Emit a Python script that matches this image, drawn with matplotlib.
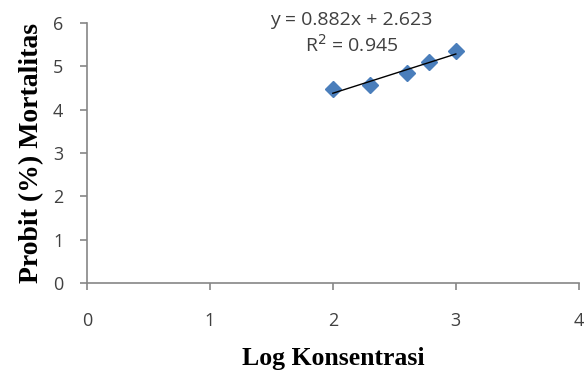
import matplotlib
matplotlib.use("Agg")
import matplotlib.pyplot as plt
import numpy as np

# data
log_konsentrasi = [2.0, 2.301, 2.602, 2.778, 3.0]
probit = [4.47, 4.56, 4.85, 5.09, 5.35]
x_ticks = [0, 1, 2, 3, 4]
y_ticks = [0, 1, 2, 3, 4, 5, 6]
equation = "y = 0.882x + 2.623"
r_squared = "R$^2$ = 0.945"

grey = "#868686"
txt = "#404040"

fig = plt.figure(figsize=(5.87, 3.76), dpi=100)
ax = fig.add_axes([0.148, 0.247, 0.838, 0.692])

ax.plot(log_konsentrasi, probit, linestyle="none", marker="D",
        markersize=8.5, color="#4A7EBB", zorder=3)

# linear trendline
k, b = np.polyfit(log_konsentrasi, probit, 1)
xs = np.array([min(log_konsentrasi), max(log_konsentrasi)])
ax.plot(xs, k * xs + b, color="black", linewidth=1, zorder=4)

ax.set_xlim(0, 4)
ax.set_ylim(0, 6)
ax.set_xticks(x_ticks)
ax.set_yticks(y_ticks)

for s in ["top", "right"]:
    ax.spines[s].set_visible(False)
for s in ["left", "bottom"]:
    ax.spines[s].set_color(grey)
    ax.spines[s].set_linewidth(1.2)

ax.tick_params(axis="both", direction="out", length=5, width=1.2, color=grey,
               labelcolor=txt, labelsize=13)
ax.tick_params(axis="x", pad=16)
ax.tick_params(axis="y", pad=12)
for lab in ax.get_xticklabels() + ax.get_yticklabels():
    lab.set_family("Open Sans")

ax.set_xlabel("Log Konsentrasi", family="Liberation Serif", fontweight="bold",
              fontsize=18.5, color="black", labelpad=12)
ax.set_ylabel("Probit (%) Mortalitas", family="Liberation Serif", fontweight="bold",
              fontsize=20, color="black", labelpad=6)

ax.text(2.15, 6.07, equation, ha="center", va="center", fontsize=14,
        color=txt, family="Open Sans")
ax.text(2.15, 5.5, r_squared, ha="center", va="center", fontsize=14,
        color=txt, family="Open Sans")

fig.savefig("out.png", dpi=100)
